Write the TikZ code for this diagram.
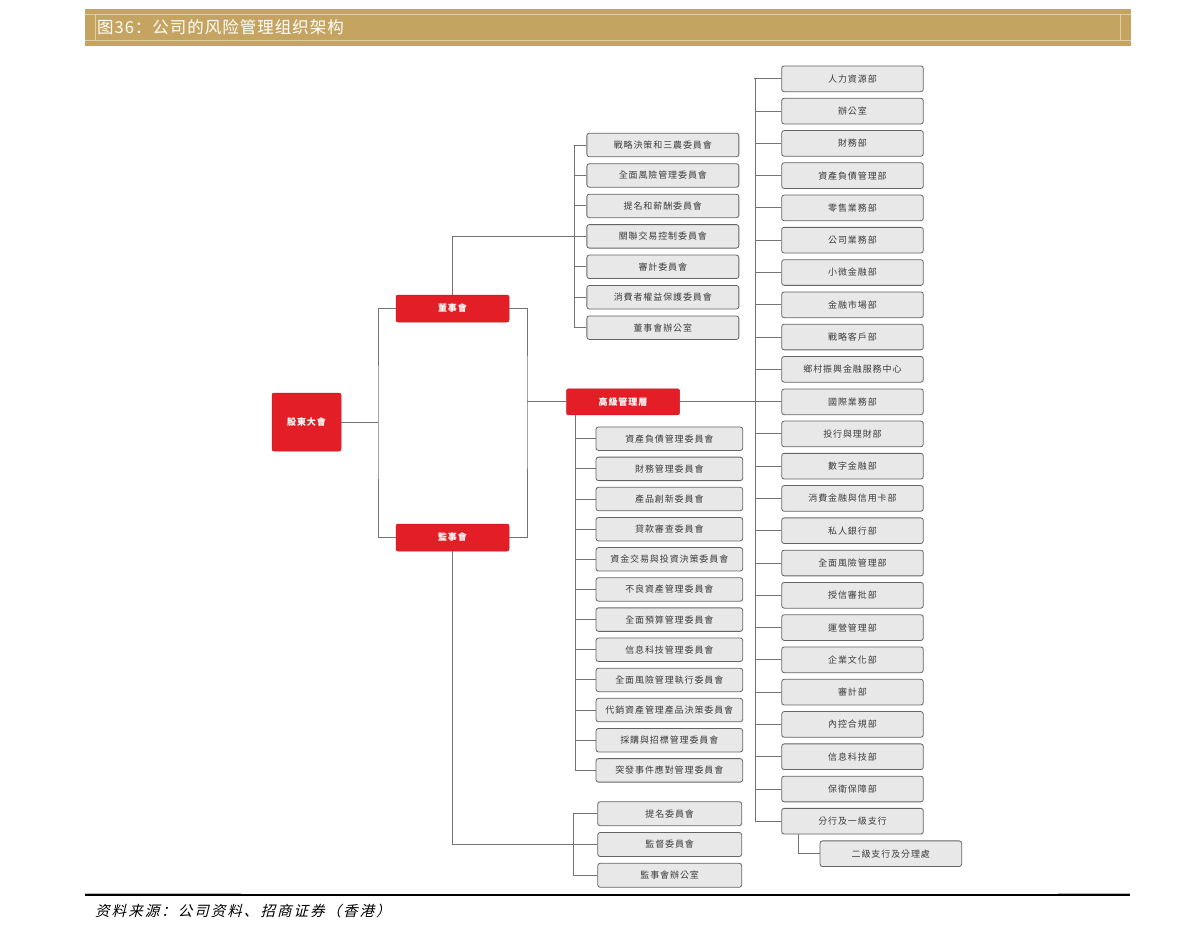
\documentclass[tikz,border=0pt]{standalone}
\usepackage{fontspec}
\usepackage{tikz}
\newfontfamily\tcfont[LetterSpace=10]{Noto Sans CJK TC}
\newfontfamily\scfont[LetterSpace=6]{Noto Sans CJK SC}
\newfontfamily\srcfont[FakeSlant=0.25,LetterSpace=14]{Noto Sans CJK SC}
\usepackage{xcolor}
\definecolor{hdgold}{RGB}{196,164,96}
\definecolor{hdline}{RGB}{224,206,160}
\definecolor{orgred}{RGB}{228,30,38}
\definecolor{boxgray}{RGB}{232,232,232}
\definecolor{boxline}{RGB}{100,100,100}
\definecolor{conngray}{RGB}{115,115,115}
\definecolor{txtgray}{RGB}{60,60,60}
\tikzstyle{redbox} = [draw=orgred!85!black, fill=orgred, rounded corners=2pt, text=white, font=\tcfont\bfseries\fontsize{9}{9}\selectfont, inner sep=0pt, line width=0.5pt]
\tikzstyle{graybox} = [draw=boxline, fill=boxgray, rounded corners=2.5pt, text=txtgray, font=\tcfont\fontsize{9}{9}\selectfont, inner sep=0pt, line width=0.8pt]
\tikzstyle{boardcom} = [graybox, minimum width=152pt, minimum height=23.5pt]
\tikzstyle{mgmcom} = [graybox, minimum width=146.7pt, minimum height=23.5pt]
\tikzstyle{supcom} = [graybox, minimum width=144pt, minimum height=24pt]
\tikzstyle{dept} = [graybox, minimum width=141.6pt, minimum height=25.7pt]
\tikzstyle{link} = [conngray, line width=0.9pt]

\begin{document}
\begin{tikzpicture}[x=1pt,y=-1pt]
\useasboundingbox (0,0) rectangle (1192,938);

% Title band
\fill[hdgold] (85,9) rectangle (1131,45.5);
\draw[hdline, line width=0.8pt] (85,14.3) -- (1131,14.3);
\draw[hdline, line width=0.8pt] (85,40) -- (1131,40);
\draw[hdline, line width=0.8pt] (95,14.3) -- (95,40);
\draw[hdline, line width=0.8pt] (1120,14.3) -- (1120,40);
\node[anchor=west, text=white, inner sep=0pt, font=\scfont\fontsize{16.5}{16.5}\selectfont] (title) at (97,27.5) {图36：公司的风险管理组织架构};

% Top level
\node[redbox, minimum width=69pt, minimum height=58pt] (gm) at (306.5,422) {股東大會};
\node[redbox, minimum width=113pt, minimum height=27pt] (board) at (452.5,308.5) {董事會};
\node[redbox, minimum width=113pt, minimum height=27pt] (sup) at (452.5,537.5) {監事會};
\node[redbox, minimum width=113pt, minimum height=26pt] (mgm) at (623,401.8) {高級管理層};

% Board committees
\node[boardcom] (bc1) at (662.85,145) {戰略決策和三農委員會};
\node[boardcom] (bc2) at (662.85,175.45) {全面風險管理委員會};
\node[boardcom] (bc3) at (662.85,205.9) {提名和薪酬委員會};
\node[boardcom] (bc4) at (662.85,236.35) {關聯交易控制委員會};
\node[boardcom] (bc5) at (662.85,266.8) {審計委員會};
\node[boardcom] (bc6) at (662.85,297.25) {消費者權益保護委員會};
\node[boardcom] (bc7) at (662.85,327.7) {董事會辦公室};

% Senior management committees
\node[mgmcom] (mc1) at (669.35,438.7) {資產負債管理委員會};
\node[mgmcom] (mc2) at (669.35,468.85) {財務管理委員會};
\node[mgmcom] (mc3) at (669.35,499) {產品創新委員會};
\node[mgmcom] (mc4) at (669.35,529.15) {貸款審查委員會};
\node[mgmcom] (mc5) at (669.35,559.3) {資金交易與投資決策委員會};
\node[mgmcom] (mc6) at (669.35,589.45) {不良資產管理委員會};
\node[mgmcom] (mc7) at (669.35,619.6) {全面預算管理委員會};
\node[mgmcom] (mc8) at (669.35,649.75) {信息科技管理委員會};
\node[mgmcom] (mc9) at (669.35,679.9) {全面風險管理執行委員會};
\node[mgmcom] (mc10) at (669.35,710.05) {代銷資產管理產品決策委員會};
\node[mgmcom] (mc11) at (669.35,740.2) {採購與招標管理委員會};
\node[mgmcom] (mc12) at (669.35,770.35) {突發事件應對管理委員會};

% Supervisory committees
\node[supcom] (sc1) at (669.7,813.7) {提名委員會};
\node[supcom] (sc2) at (669.7,844.5) {監督委員會};
\node[supcom] (sc3) at (669.7,875.3) {監事會辦公室};

% Departments
\node[dept] (d1) at (852.5,78.8) {人力資源部};
\node[dept] (d2) at (852.5,111.1) {辦公室};
\node[dept] (d3) at (852.5,143.4) {財務部};
\node[dept] (d4) at (852.5,175.6) {資產負債管理部};
\node[dept] (d5) at (852.5,207.9) {零售業務部};
\node[dept] (d6) at (852.5,240.2) {公司業務部};
\node[dept] (d7) at (852.5,272.5) {小微金融部};
\node[dept] (d8) at (852.5,304.8) {金融市場部};
\node[dept] (d9) at (852.5,337) {戰略客戶部};
\node[dept] (d10) at (852.5,369.3) {鄉村振興金融服務中心};
\node[dept] (d11) at (852.5,401.8) {國際業務部};
\node[dept] (d12) at (852.5,433.9) {投行與理財部};
\node[dept] (d13) at (852.5,466.2) {數字金融部};
\node[dept] (d14) at (852.5,498.4) {消費金融與信用卡部};
\node[dept] (d15) at (852.5,530.7) {私人銀行部};
\node[dept] (d16) at (852.5,563) {全面風險管理部};
\node[dept] (d17) at (852.5,595.3) {授信審批部};
\node[dept] (d18) at (852.5,627.6) {運營管理部};
\node[dept] (d19) at (852.5,659.8) {企業文化部};
\node[dept] (d20) at (852.5,692.1) {審計部};
\node[dept] (d21) at (852.5,724.4) {內控合規部};
\node[dept] (d22) at (852.5,756.7) {信息科技部};
\node[dept] (d23) at (852.5,789) {保衛保障部};
\node[dept] (d24) at (852.5,821.2) {分行及一級支行};
\node[dept] (d25) at (890.85,853.7) {二級支行及分理處};

% Top level links
\coordinate (gmbus) at (378,422);
\coordinate (mgmbus) at (527,401.8);
\draw[link] (gm.east) -- (gmbus);
\draw[link] (board.west) -| (gmbus) |- (sup.west);
\draw[link] (board.east) -| (mgmbus) |- (sup.east);
\draw[link] (mgmbus) -- (mgm.west);

% Board committee links
\draw[link] (board.north) |- (bc4.west);
\draw[link] (bc1.west) -- ++(-11.7,0) |- (bc7.west);
\draw[link] (bc2.west) -- ++(-11.7,0);
\draw[link] (bc3.west) -- ++(-11.7,0);
\draw[link] (bc5.west) -- ++(-11.7,0);
\draw[link] (bc6.west) -- ++(-11.7,0);

% Senior management committee links
\coordinate (mcbus) at (575,414.8);
\draw[link] (mcbus) |- (mc12.west);
\draw[link] (mc1.west) -- ++(-21,0);
\draw[link] (mc2.west) -- ++(-21,0);
\draw[link] (mc3.west) -- ++(-21,0);
\draw[link] (mc4.west) -- ++(-21,0);
\draw[link] (mc5.west) -- ++(-21,0);
\draw[link] (mc6.west) -- ++(-21,0);
\draw[link] (mc7.west) -- ++(-21,0);
\draw[link] (mc8.west) -- ++(-21,0);
\draw[link] (mc9.west) -- ++(-21,0);
\draw[link] (mc10.west) -- ++(-21,0);
\draw[link] (mc11.west) -- ++(-21,0);

% Supervisory committee links
\draw[link] (sup.south) |- (sc2.west);
\draw[link] (sc1.west) -- ++(-23.7,0) |- (sc3.west);

% Department links
\draw[link] (mgm.east) -- (d11.west);
\draw[link] (d1.west) -- ++(-27.5,0);
\draw[link] (d1.west) ++(-25.7,0) |- (d24.west);
\draw[link] (d2.west) -- ++(-25.7,0);
\draw[link] (d3.west) -- ++(-25.7,0);
\draw[link] (d4.west) -- ++(-25.7,0);
\draw[link] (d5.west) -- ++(-25.7,0);
\draw[link] (d6.west) -- ++(-25.7,0);
\draw[link] (d7.west) -- ++(-25.7,0);
\draw[link] (d8.west) -- ++(-25.7,0);
\draw[link] (d9.west) -- ++(-25.7,0);
\draw[link] (d10.west) -- ++(-25.7,0);
\draw[link] (d12.west) -- ++(-25.7,0);
\draw[link] (d13.west) -- ++(-25.7,0);
\draw[link] (d14.west) -- ++(-25.7,0);
\draw[link] (d15.west) -- ++(-25.7,0);
\draw[link] (d16.west) -- ++(-25.7,0);
\draw[link] (d17.west) -- ++(-25.7,0);
\draw[link] (d18.west) -- ++(-25.7,0);
\draw[link] (d19.west) -- ++(-25.7,0);
\draw[link] (d20.west) -- ++(-25.7,0);
\draw[link] (d21.west) -- ++(-25.7,0);
\draw[link] (d22.west) -- ++(-25.7,0);
\draw[link] (d23.west) -- ++(-25.7,0);
\draw[link] ([xshift=-54.2pt]d24.south) |- (d25.west);

% Source line
\draw[gray!55, line width=0.8pt] (85,893.2) -- (241,893.2);
\draw[gray!55, line width=0.8pt] (1058,893.2) -- (1130,893.2);
\draw[black, line width=1.8pt] (85,895) -- (1130,895);
\node[anchor=west, inner sep=0pt, font=\srcfont\fontsize{14.5}{14.5}\selectfont] (source) at (95,911) {资料来源：公司资料、招商证券（香港）};
\end{tikzpicture}
\end{document}
